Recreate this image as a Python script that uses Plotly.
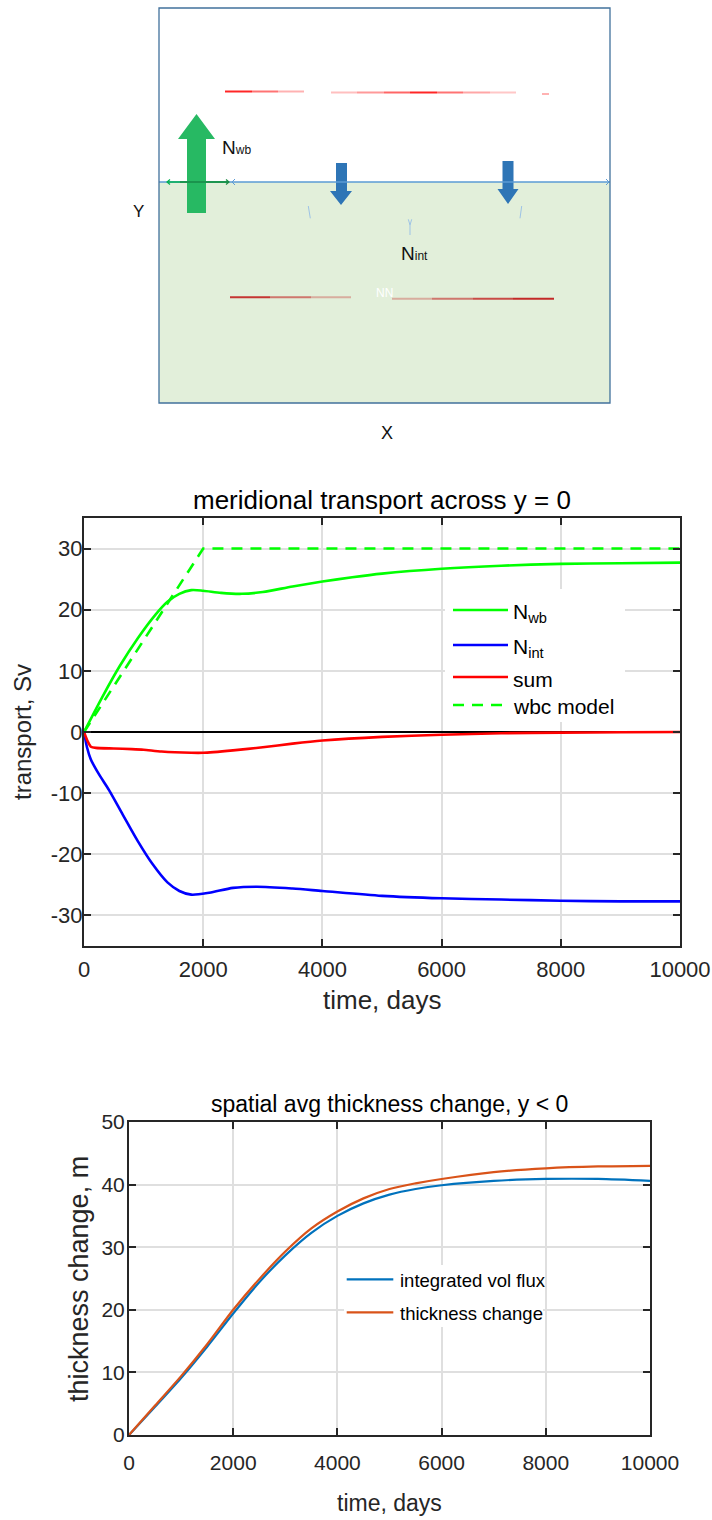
import plotly.graph_objects as go

W, H = 712, 1520

# ---------------- data: meridional transport across y = 0 ----------------
t_wb = [0, 300, 600, 900, 1200, 1400, 1600, 1800, 2000, 2300, 2650, 3000, 3500,
        4000, 4500, 5000, 6000, 7000, 8000, 9000, 10000]
n_wb = [0, 5.6, 10.8, 15.3, 19.2, 21.3, 22.6, 23.2, 23.1, 22.75, 22.6, 22.9, 23.8,
        24.6, 25.3, 25.9, 26.7, 27.2, 27.5, 27.6, 27.7]
t_int = [0, 50, 115, 250, 420, 650, 900, 1150, 1400, 1600, 1800, 2100, 2500,
         2900, 3500, 4000, 5000, 6000, 7000, 8000, 9000, 10000]
n_int = [0, -2.5, -4.5, -6.9, -9.5, -13.5, -17.8, -21.6, -24.6, -26.0, -26.6,
         -26.3, -25.5, -25.3, -25.6, -26.0, -26.8, -27.2, -27.4, -27.6, -27.7, -27.7]
t_sum = [0, 60, 115, 200, 500, 800, 1000, 1300, 1800, 2000, 2500, 3000, 3500,
         4000, 5000, 6000, 7000, 8000, 9000, 10000]
n_sum = [0, -1.5, -2.4, -2.6, -2.7, -2.8, -2.9, -3.2, -3.4, -3.4, -3.0, -2.5,
         -1.9, -1.4, -0.8, -0.45, -0.2, -0.1, -0.05, 0.0]
t_wbc = [0, 2000, 10000]
n_wbc = [0, 30, 30]

# ---------------- data: spatial avg thickness change ----------------
t_thk = [0, 500, 1000, 1500, 2000, 2500, 3000, 3500, 4000, 4500, 5000, 5500,
         6000, 7000, 8000, 9000, 10000]
thick = [0, 4.7, 9.4, 14.5, 20.0, 24.9, 29.3, 33.0, 35.7, 37.8, 39.3, 40.2,
         40.9, 42.0, 42.6, 42.9, 43.0]
volflux = [0, 4.5, 9.1, 14.1, 19.4, 24.4, 28.7, 32.3, 35.0, 37.0, 38.4, 39.3,
           39.9, 40.6, 40.9, 40.9, 40.6]

x_ticks = [0, 2000, 4000, 6000, 8000, 10000]
x_ticktext = ["0", "2000", "4000", "6000", "8000", "10000"]
y1_ticks = [-30, -20, -10, 0, 10, 20, 30]
y1_ticktext = ["-30", "-20", "-10", "0", "10", "20", "30"]
y2_ticks = [0, 10, 20, 30, 40, 50]
y2_ticktext = ["0", "10", "20", "30", "40", "50"]

# ---------------- schematic elements (page pixel coordinates) ----------------
sch_box = [159, 8, 610, 403]
sch_split = 182
green_arrow = [(187, 213), (187, 139), (178, 139), (196.5, 114), (215, 139), (206, 139), (206, 213)]
blue_arrow1 = [(336, 163), (336, 191), (330, 191), (341, 205), (352, 191), (347, 191), (347, 163)]
blue_arrow2 = [(502.5, 161), (502.5, 189), (497.5, 189), (508, 204), (518.5, 189), (513.5, 189), (513.5, 161)]
red_top = [  # x0, x1, y, alpha
    (225, 252, 91.5, 0.85), (252, 278, 91.5, 0.55), (278, 304, 91.5, 0.3),
    (331, 357, 92.5, 0.25), (357, 384, 92.5, 0.4), (384, 410, 92.5, 0.6),
    (410, 437, 92.5, 0.85), (437, 463, 92.5, 0.55), (463, 490, 92.5, 0.35),
    (490, 516, 92.5, 0.22), (542, 549, 94, 0.3)]
red_bot = [
    (230, 270, 297.3, 0.85), (270, 311, 297.3, 0.55), (311, 351, 297.3, 0.3),
    (392, 432, 298.7, 0.3), (432, 473, 298.7, 0.55), (473, 513, 298.7, 0.75),
    (513, 554, 298.7, 0.9)]
blue_marks = [[(308.3, 206), (310.3, 218.3)], [(408.3, 219.3), (410, 225), (411.7, 219.3)],
              [(410, 225), (410, 235)], [(521.7, 206), (520, 218.3)]]

FONT = "Liberation Sans"
AX = "#262626"
GRID = "#DFDFDF"


def fx(px):
    return px / W


def fy(py):
    return 1 - py / H


def ann(x, y, text, size, color=AX, xanchor="center", yanchor="middle", angle=0, ref="paper"):
    if ref == "paper":
        xx, yy, xr, yr = fx(x), fy(y), "paper", "paper"
    else:
        xx, yy, xr, yr = x, y, "x3", "y3"
    return dict(xref=xr, yref=yr, x=xx, y=yy, text=text, showarrow=False,
                xanchor=xanchor, yanchor=yanchor, textangle=angle,
                font=dict(family=FONT, size=size, color=color))


fig = go.Figure()

# middle plot traces
fig.add_trace(go.Scatter(x=t_wb, y=n_wb, mode="lines", xaxis="x", yaxis="y",
                         line=dict(color="#00FF00", width=2.6, shape="spline", smoothing=0.8),
                         showlegend=False))
fig.add_trace(go.Scatter(x=t_int, y=n_int, mode="lines", xaxis="x", yaxis="y",
                         line=dict(color="#0000FF", width=2.6, shape="spline", smoothing=0.8),
                         showlegend=False))
fig.add_trace(go.Scatter(x=t_sum, y=n_sum, mode="lines", xaxis="x", yaxis="y",
                         line=dict(color="#FF0000", width=2.6, shape="spline", smoothing=0.6),
                         showlegend=False))
fig.add_trace(go.Scatter(x=t_wbc, y=n_wbc, mode="lines", xaxis="x", yaxis="y",
                         line=dict(color="#00FF00", width=2.6, dash="11px,8px"),
                         showlegend=False))

# bottom plot traces
fig.add_trace(go.Scatter(x=t_thk, y=volflux, mode="lines", xaxis="x2", yaxis="y2",
                         line=dict(color="#0072BD", width=2.2, shape="spline", smoothing=0.8),
                         showlegend=False))
fig.add_trace(go.Scatter(x=t_thk, y=thick, mode="lines", xaxis="x2", yaxis="y2",
                         line=dict(color="#D95319", width=2.2, shape="spline", smoothing=0.8),
                         showlegend=False))

# schematic axis (empty trace to create the subplot)
fig.add_trace(go.Scatter(x=[], y=[], xaxis="x3", yaxis="y3", showlegend=False))

axis_common = dict(ticks="inside", ticklen=7, tickwidth=2, tickcolor=AX, showline=True,
                   linecolor=AX, linewidth=2, mirror="allticks", showgrid=True,
                   gridcolor=GRID, gridwidth=1.6, zeroline=False, automargin=False)

shapes = []
annotations = []

# ---- schematic shapes ----
bx0, by0, bx1, by1 = sch_box
shapes.append(dict(type="rect", xref="x3", yref="y3", x0=bx0, x1=bx1, y0=sch_split, y1=by1,
                   fillcolor="#E2EFDA", line=dict(width=0), layer="above"))
for x0, x1, y, a in red_top:
    shapes.append(dict(type="line", xref="x3", yref="y3", x0=x0, x1=x1, y0=y, y1=y,
                       line=dict(color=f"rgba(255,0,0,{a})", width=2), layer="above"))
for x0, x1, y, a in red_bot:
    shapes.append(dict(type="line", xref="x3", yref="y3", x0=x0, x1=x1, y0=y, y1=y,
                       line=dict(color=f"rgba(192,20,20,{a})", width=2), layer="above"))
for pts in blue_marks:
    path = "M " + " L ".join(f"{x},{y}" for x, y in pts)
    shapes.append(dict(type="path", xref="x3", yref="y3", path=path,
                       line=dict(color="#9DC3E6", width=1), layer="above"))


def poly(pts):
    return "M " + " L ".join(f"{x},{y}" for x, y in pts) + " Z"


shapes.append(dict(type="path", xref="x3", yref="y3", path=poly(green_arrow),
                   fillcolor="#27B963", line=dict(width=0), layer="above"))
shapes.append(dict(type="path", xref="x3", yref="y3", path=poly(blue_arrow1),
                   fillcolor="#2E75B6", line=dict(width=0), layer="above"))
shapes.append(dict(type="path", xref="x3", yref="y3", path=poly(blue_arrow2),
                   fillcolor="#2E75B6", line=dict(width=0), layer="above"))
shapes.append(dict(type="line", xref="x3", yref="y3", x0=bx0, x1=bx1, y0=sch_split, y1=sch_split,
                   line=dict(color="#5B9BD5", width=1.3), layer="above"))
shapes.append(dict(type="path", xref="x3", yref="y3",
                   path=f"M 235,{sch_split-3} L 232,{sch_split} L 235,{sch_split+3}",
                   line=dict(color="#5B9BD5", width=1), layer="above"))
shapes.append(dict(type="path", xref="x3", yref="y3",
                   path=f"M 606,{sch_split-3} L 609,{sch_split} L 606,{sch_split+3}",
                   line=dict(color="#5B9BD5", width=1), layer="above"))
shapes.append(dict(type="line", xref="x3", yref="y3", x0=167, x1=229, y0=sch_split, y1=sch_split,
                   line=dict(color="#00B050", width=1.6), layer="above"))
shapes.append(dict(type="line", xref="x3", yref="y3", x0=180, x1=229, y0=sch_split, y1=sch_split,
                   line=dict(color="#1E8C45", width=1.6), layer="above"))
shapes.append(dict(type="path", xref="x3", yref="y3",
                   path=f"M 170,{sch_split-2.5} L 167,{sch_split} L 170,{sch_split+2.5}",
                   line=dict(color="#00B050", width=1.2), layer="above"))
shapes.append(dict(type="path", xref="x3", yref="y3",
                   path=f"M 226,{sch_split-2.5} L 229,{sch_split} L 226,{sch_split+2.5}",
                   line=dict(color="#1E8C45", width=1.2), layer="above"))
shapes.append(dict(type="rect", xref="x3", yref="y3", x0=bx0, x1=bx1, y0=by0, y1=by1,
                   line=dict(color="#41719C", width=1.3), fillcolor="rgba(0,0,0,0)", layer="above"))

annotations += [
    ann(220, 147, "N<span style='font-size:12px'>wb</span>", 19, "#111111", xanchor="left", ref="x3"),
    ann(399, 253, "N<span style='font-size:12px'>int</span>", 19, "#111111", xanchor="left", ref="x3"),
    ann(384.5, 292.5, "NN", 12, "#FFFFFF", ref="x3"),
    ann(138, 211, "Y", 17, "#111111", ref="x3"),
    ann(386.5, 433, "X", 18, "#111111", ref="x3"),
]

# ---- middle plot titles / labels ----
annotations += [
    ann(382, 500, "meridional transport across y = 0", 26, "#000000"),
    ann(382, 1000, "time, days", 26),
    ann(22, 732, "transport, Sv", 24, angle=-90),
]

# ---- middle legend (manual) ----
shapes.append(dict(type="rect", xref="paper", yref="paper", x0=fx(445), x1=fx(625),
                   y0=fy(722), y1=fy(589), fillcolor="#FFFFFF", line=dict(width=0), layer="above"))
leg1 = [("N<sub>wb</sub>", "#00FF00", "solid", 610, 613),
        ("N<sub>int</sub>", "#0000FF", "solid", 645, 648),
        ("sum", "#FF0000", "solid", 677, 679),
        ("wbc model", "#00FF00", "11px,8px", 705, 706)]
for txt, col, dash, ly, ty in leg1:
    shapes.append(dict(type="line", xref="paper", yref="paper", x0=fx(453), x1=fx(508),
                       y0=fy(ly), y1=fy(ly), line=dict(color=col, width=2.6, dash=dash),
                       layer="above"))
    annotations.append(ann(511, ty, txt, 21, "#000000", xanchor="left"))

# ---- bottom plot titles / labels ----
annotations += [
    ann(389.5, 1104, "spatial avg thickness change, y < 0", 23, "#000000"),
    ann(389.5, 1503, "time, days", 23),
    ann(79, 1279, "thickness change, m", 27, angle=-90),
]

# ---- bottom legend (manual) ----
shapes.append(dict(type="rect", xref="paper", yref="paper", x0=fx(344), x1=fx(543),
                   y0=fy(1327), y1=fy(1265), fillcolor="#FFFFFF", line=dict(width=0),
                   layer="above"))
leg2 = [("integrated vol flux", "#0072BD", 1279.3), ("thickness change", "#D95319", 1312.3)]
for txt, col, ly in leg2:
    shapes.append(dict(type="line", xref="paper", yref="paper", x0=fx(346.7), x1=fx(393.3),
                       y0=fy(ly), y1=fy(ly), line=dict(color=col, width=2.2), layer="above"))
    annotations.append(ann(398, ly + 1, txt, 18.5, "#000000", xanchor="left"))

fig.update_layout(
    width=W, height=H, autosize=False,
    margin=dict(l=0, r=0, t=0, b=0, pad=0, autoexpand=False),
    paper_bgcolor="#FFFFFF", plot_bgcolor="rgba(0,0,0,0)",
    showlegend=False,
    xaxis=dict(domain=[fx(84), fx(680)], range=[0, 10000], anchor="y",
               tickvals=x_ticks, ticktext=x_ticktext, ticklabelstandoff=3,
               tickfont=dict(family=FONT, size=22, color=AX), **axis_common),
    yaxis=dict(domain=[fy(946), fy(518)], range=[-35, 35], anchor="x",
               tickvals=y1_ticks, ticktext=y1_ticktext, ticklabelstandoff=-5,
               tickfont=dict(family=FONT, size=22, color=AX),
               **{**axis_common, "zeroline": True, "zerolinecolor": "#000000",
                  "zerolinewidth": 1.6}),
    xaxis2=dict(domain=[fx(129), fx(650)], range=[0, 10000], anchor="y2",
                tickvals=x_ticks, ticktext=x_ticktext, ticklabelstandoff=8,
                tickfont=dict(family=FONT, size=21, color=AX), **axis_common),
    yaxis2=dict(domain=[fy(1435), fy(1122)], range=[0, 50], anchor="x2",
                tickvals=y2_ticks, ticktext=y2_ticktext, ticklabelstandoff=-2,
                tickfont=dict(family=FONT, size=21, color=AX), **axis_common),
    xaxis3=dict(domain=[0, 1], range=[0, W], anchor="y3", visible=False, fixedrange=True,
                showticklabels=False, showgrid=False, zeroline=False, automargin=False),
    yaxis3=dict(domain=[0, 1], range=[H, 0], anchor="x3", visible=False, fixedrange=True,
                showticklabels=False, showgrid=False, zeroline=False, automargin=False),
    shapes=shapes,
    annotations=annotations,
)

fig.write_html("out.html")
